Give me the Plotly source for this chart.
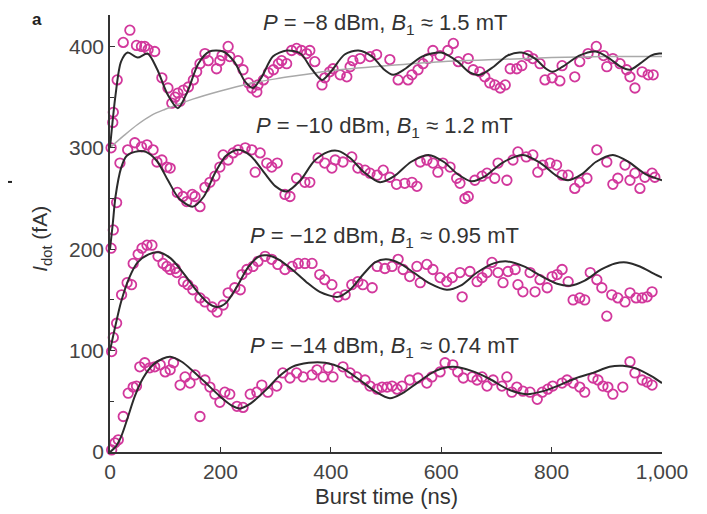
import plotly.graph_objects as go

# ---------------- data ----------------
# P = -8 dBm series
s1_x = [2,5,6,13,24,36,48,57,63,69,81,94,105,112,118,123,127,133,142,151,157,163,172,178,193,199,203,214,217,232,241,251,257,266,268,278,287,296,305,311,320,329,338,347,356,362,371,384,389,398,404,417,429,435,440,453,471,483,507,522,540,547,558,567,576,585,598,612,622,631,649,658,670,679,688,697,707,716,725,737,746,757,766,779,788,801,815,819,842,851,866,881,894,900,911,924,936,942,951,964,975,984]
s1_y = [300,325,335,367,404,416,401,400,400,397,395,369,359,344,350,354,346,357,360,367,375,383,393,386,378,386,391,400,390,386,377,364,359,355,362,367,374,377,383,386,383,396,398,396,393,396,385,362,369,375,378,372,370,380,386,388,390,392,387,367,367,372,377,383,388,396,391,396,403,385,388,377,375,370,364,362,359,362,378,378,381,391,388,383,367,369,366,381,370,385,393,400,391,380,388,383,377,370,359,375,372,372]
fit1_x = [0,10,20,32,50,68,85,105,123,140,160,180,205,225,245,259,275,295,320,345,365,384,400,425,450,475,495,513,535,565,600,630,650,670,695,720,745,770,790,802,820,850,880,905,925,942,960,980,995,1000]
fit1_y = [300,352,385,394,389,393,378,352,339,355,383,395,395,385,365,359,370,390,396,393,378,367,375,392,396,390,378,372,378,390,394,385,375,372,380,391,394,388,378,375,380,391,395,388,380,377,383,391,393,393]
env_x = [0,25,50,75,100,150,200,250,300,350,400,500,600,700,800,900,1000]
env_y = [300,312,323,332,338,348,356,363,368,372,376,381,385,387,389,390,390]

# P = -10 dBm series
s2_x = [2,6,12,18,32,45,57,67,78,85,94,103,109,122,132,139,149,154,163,172,181,190,199,205,214,223,232,245,257,263,272,284,293,303,317,326,338,353,362,377,389,402,408,422,438,449,462,471,484,495,507,519,534,547,556,562,574,585,594,603,616,628,634,643,649,661,674,683,697,703,719,730,739,754,766,775,784,797,809,819,830,842,851,864,882,900,911,920,933,942,951,960,969,982,987]
s2_y = [201,219,246,285,298,305,301,303,298,286,288,281,280,256,252,247,254,252,242,261,266,272,281,293,288,295,298,300,298,276,295,285,281,285,254,252,270,266,266,290,285,280,288,286,291,280,278,275,273,278,271,264,265,266,262,286,288,285,276,285,281,270,265,250,252,268,272,275,270,285,268,288,296,291,293,276,283,285,283,273,273,260,266,270,298,286,264,270,283,268,275,260,271,275,271]
fit2_x = [0,5,10,20,30,45,65,85,105,125,150,170,190,210,232,255,280,300,320,345,370,395,413,435,460,489,515,545,577,605,630,655,680,710,748,780,810,830,855,880,911,940,970,1000]
fit2_y = [200,225,252,280,292,296,296,287,268,250,242,252,275,292,298,292,275,262,257,268,287,296,297,290,276,266,272,286,293,286,274,267,272,285,293,285,272,268,274,286,293,286,274,268]

# P = -12 dBm series
s3_x = [3,6,12,21,31,39,42,51,58,67,76,87,96,103,109,118,121,133,141,150,163,172,185,194,205,214,226,236,239,248,259,268,281,293,304,317,330,341,353,366,380,389,402,413,426,438,449,458,475,484,498,511,522,531,543,556,562,574,585,598,610,620,634,638,652,665,674,683,692,703,712,721,734,739,748,761,770,779,792,801,810,819,830,839,851,860,870,882,891,900,909,920,933,942,953,964,973,982]
s3_y = [99,113,127,155,167,165,186,195,201,204,204,193,186,183,180,181,177,168,165,160,152,148,143,138,145,157,162,160,175,180,183,188,193,190,185,180,183,186,186,186,175,170,165,153,155,165,168,165,162,183,181,183,190,180,173,183,167,185,180,172,168,172,177,153,178,168,172,177,187,177,167,178,180,165,158,177,158,170,162,173,175,180,168,150,152,150,177,170,162,134,155,152,148,157,152,152,153,158]
fit3_x = [0,10,20,35,50,70,88,110,135,160,180,194,210,230,250,270,285,305,330,355,380,413,435,460,480,500,525,550,580,610,635,665,695,720,750,780,810,833,860,890,915,936,960,985,1000]
fit3_y = [100,125,148,172,187,195,197,191,175,157,146,143,147,163,182,193,194,190,180,168,158,153,160,176,187,190,186,177,166,160,164,177,186,188,183,174,166,164,169,180,186,187,183,176,172]

# P = -14 dBm series
s4_x = [3,9,15,24,33,42,48,54,63,72,81,91,100,109,115,127,136,145,154,163,172,181,190,199,208,217,230,241,254,266,275,286,302,313,326,338,350,366,375,386,395,404,422,435,447,462,471,484,493,502,511,520,529,543,558,574,583,598,607,621,630,640,656,665,674,683,694,710,719,728,737,748,761,774,783,793,802,819,828,839,851,860,875,884,893,902,911,929,942,951,964,973,982]
s4_y = [2,9,12,35,58,64,65,84,88,83,84,86,79,81,88,66,74,68,76,35,71,64,57,49,59,57,45,44,57,59,66,59,65,78,73,78,74,76,81,74,83,74,84,78,74,71,65,62,64,64,65,62,65,71,73,68,74,79,88,86,79,73,74,71,74,65,71,65,74,59,64,60,59,52,59,62,65,68,71,68,64,59,73,71,65,64,57,64,89,78,71,69,66]
fit4_x = [0,10,20,31,45,60,78,95,109,130,150,170,199,220,236,255,284,305,330,360,390,420,450,480,507,530,556,590,621,655,688,720,755,785,810,845,875,905,929,955,980,1000]
fit4_y = [0,5,15,32,55,73,86,92,94,89,80,70,55,46,43,48,62,74,84,88,88,83,72,60,53,58,68,80,84,80,72,62,57,60,65,73,78,84,85,82,75,68]

labels = ["<i>P</i> = −8 dBm, <i>B</i><sub>1</sub> ≈ 1.5 mT",
          "<i>P</i> = −10 dBm, <i>B</i><sub>1</sub> ≈ 1.2 mT",
          "<i>P</i> = −12 dBm, <i>B</i><sub>1</sub> ≈ 0.95 mT",
          "<i>P</i> = −14 dBm, <i>B</i><sub>1</sub> ≈ 0.74 mT"]
label_y = [422, 321, 212, 104]

x_ticks = [0, 200, 400, 600, 800, 1000]
x_ticktext = ["0", "200", "400", "600", "800", "1,000"]
y_ticks = [0, 100, 200, 300, 400]

# ---------------- figure ----------------
MAG = "#d2389c"
FONT = "Liberation Sans, Arial, Helvetica, sans-serif"
fig = go.Figure()

for xs, ys in [(s1_x, s1_y), (s2_x, s2_y), (s3_x, s3_y), (s4_x, s4_y)]:
    fig.add_trace(go.Scatter(x=xs, y=ys, mode="markers",
                             marker=dict(symbol="circle-open", size=9.5, color=MAG,
                                         line=dict(width=1.8, color=MAG)),
                             cliponaxis=False, showlegend=False))

fig.add_trace(go.Scatter(x=env_x, y=env_y, mode="lines",
                         line=dict(color="#a9a9a9", width=1.5, shape="spline"),
                         showlegend=False))
for xs, ys in [(fit1_x, fit1_y), (fit2_x, fit2_y), (fit3_x, fit3_y), (fit4_x, fit4_y)]:
    fig.add_trace(go.Scatter(x=xs, y=ys, mode="lines",
                             line=dict(color="#2b2b2b", width=2, shape="spline", smoothing=0.8),
                             showlegend=False))

for t, yv in zip(labels, label_y):
    fig.add_annotation(x=498, y=yv, text=t, showarrow=False, xanchor="center", yanchor="middle",
                       font=dict(family=FONT, size=22, color="#333333"))

fig.add_annotation(x=-0.125, y=0.488, xref="paper", yref="paper", text="<i>I</i><sub>dot</sub> (fA)",
                   textangle=-90, showarrow=False, xanchor="center", yanchor="middle",
                   font=dict(family=FONT, size=21, color="#333333"))
fig.add_annotation(x=0.5, y=-0.102, xref="paper", yref="paper", text="Burst time (ns)",
                   showarrow=False, xanchor="center", yanchor="middle",
                   font=dict(family=FONT, size=22, color="#333333"))
fig.add_annotation(x=-0.132, y=1.015, xref="paper", yref="paper", text="<b>a</b>",
                   showarrow=False, xanchor="center", yanchor="top",
                   font=dict(family=FONT, size=17, color="#222222"))
fig.add_shape(type="line", xref="paper", yref="paper", x0=-0.185, x1=-0.1775, y0=0.618, y1=0.618,
              line=dict(color="#222222", width=2))

fig.update_xaxes(range=[0, 1000], tickvals=x_ticks, ticktext=x_ticktext, ticks="inside", ticklen=5,
                 tickcolor="#333", showline=True, linecolor="#333", linewidth=1.5, showgrid=False,
                 zeroline=False, tickfont=dict(family=FONT, size=21, color="#444"))
fig.update_yaxes(range=[0, 431], tickvals=y_ticks, ticks="inside", ticklen=5, tickcolor="#333",
                 showline=True, linecolor="#333", linewidth=1.5, showgrid=False, zeroline=False,
                 minor=dict(tickvals=[50, 150, 250, 350], ticks="inside", ticklen=4, tickcolor="#333"),
                 tickfont=dict(family=FONT, size=21, color="#444"))

# the page adds an 8 px body margin, so the figure is 8 px smaller and margins shifted
fig.update_layout(width=699, height=506, margin=dict(l=102, r=45, t=7, b=62),
                  plot_bgcolor="white", paper_bgcolor="white", showlegend=False)

fig.write_html("out.html")
